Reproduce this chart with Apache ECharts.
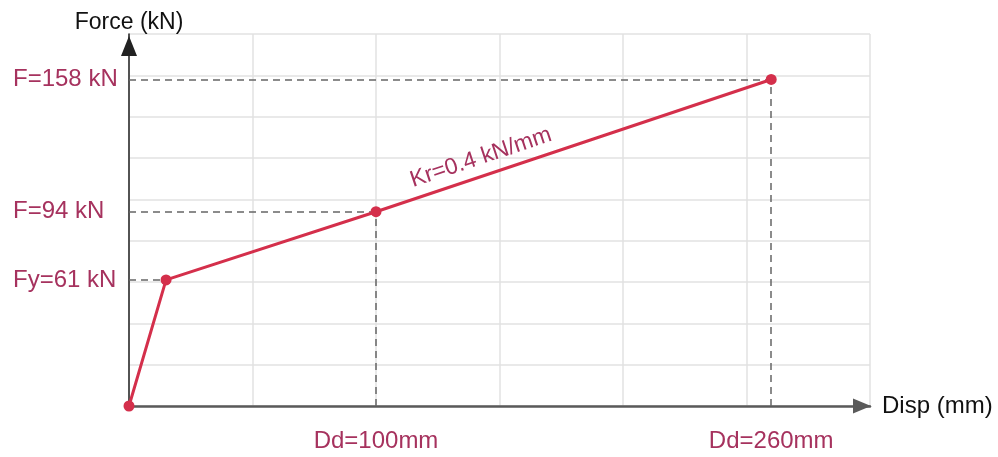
<!DOCTYPE html>
<html>
<head>
<meta charset="utf-8">
<script src="https://cdn.jsdelivr.net/npm/echarts@6/dist/echarts.min.js"></script>
<style>html,body{margin:0;padding:0;background:#fff}#c{width:998px;height:457px}</style>
</head>
<body>
<div id="c"></div>
<script>
// Data
const dispValues = [0, 15, 100, 260];          // mm
const forceValues = [0, 61, 94, 158];          // kN
const yLabelValues = [61, 94, 158];
const yLabelTexts = ['Fy=61 kN', 'F=94 kN', 'F=158 kN'];
const xLabelValues = [100, 260];
const xLabelTexts = ['Dd=100mm', 'Dd=260mm'];
const slopeText = 'Kr=0.4 kN/mm';
const xName = 'Disp (mm)';
const yName = 'Force (kN)';

const FONT = '"Liberation Sans", Arial, Helvetica, sans-serif';
const LABEL_COLOR = '#a6325e';
const LINE_COLOR = '#d42f4b';

const pts = dispValues.map((d, i) => [d, forceValues[i]]);

const chart = echarts.init(document.getElementById('c'), null, {renderer: 'canvas'});
const ymap = {}; yLabelValues.forEach((v, i) => ymap[v] = yLabelTexts[i]);
const xmap = {}; xLabelValues.forEach((v, i) => xmap[v] = xLabelTexts[i]);

const dashStyle = {color: '#666', type: [7, 5], width: 1.5};
chart.setOption({
  animation: false,
  grid: {left: 129, right: 128, top: 34, bottom: 51},
  xAxis: [{
    type: 'value', min: 0, max: 300, interval: 50,
    name: xName, nameLocation: 'end', nameGap: 12,
    nameTextStyle: {fontFamily: FONT, fontSize: 24, color: '#111', verticalAlign: 'middle'},
    axisLine: {show: true, lineStyle: {color: '#5a5a5a', width: 2.5}, symbol: ['none', 'triangle'], symbolSize: [15, 18], symbolOffset: [0, -8]},
    axisTick: {show: false},
    axisLabel: {
      show: true, customValues: xLabelValues, margin: 23,
      formatter: v => xmap[v] || '',
      fontFamily: FONT, fontSize: 24, color: LABEL_COLOR
    },
    splitLine: {show: true, lineStyle: {color: '#e2e2e2', width: 1.5}}
  }],
  yAxis: [{
    type: 'value', min: 0, max: 180, interval: 20,
    name: yName, nameLocation: 'end', nameGap: 0,
    nameTextStyle: {fontFamily: FONT, fontSize: 23, color: '#111', align: 'center'},
    axisLine: {show: true, lineStyle: {color: '#222', width: 1.5}, symbol: ['none', 'triangle'], symbolSize: [16, 20], symbolOffset: [0, -12]},
    axisTick: {show: false},
    axisLabel: {
      show: true, customValues: yLabelValues, margin: 116, align: 'left',
      formatter: v => ymap[v] || '',
      fontFamily: FONT, fontSize: 24, color: LABEL_COLOR
    },
    splitLine: {show: true, lineStyle: {color: '#e2e2e2', width: 1.5}}
  }],
  series: [{
    type: 'line',
    data: pts,
    symbol: 'circle', symbolSize: 11,
    lineStyle: {color: LINE_COLOR, width: 3},
    itemStyle: {color: LINE_COLOR},
    z: 5,
    markLine: {
      silent: true, symbol: 'none', label: {show: false},
      lineStyle: dashStyle,
      z: 3,
      data: [
        [{coord: [0, pts[1][1]]}, {coord: pts[1]}],
        [{coord: [0, pts[2][1]]}, {coord: pts[2]}],
        [{coord: [pts[2][0], 0]}, {coord: pts[2]}],
        [{coord: [0, pts[3][1]]}, {coord: pts[3]}],
        [{coord: [pts[3][0], 0]}, {coord: pts[3]}]
      ]
    }
  }]
});

// Slope label along the second segment
const p1 = chart.convertToPixel({gridIndex: 0}, pts[2]);
const p2 = chart.convertToPixel({gridIndex: 0}, pts[3]);
const ang = Math.atan2(p1[1] - p2[1], p2[0] - p1[0]);
const t = 0.28;
const mx = p1[0] + (p2[0] - p1[0]) * t;
const my = p1[1] + (p2[1] - p1[1]) * t;
const off = 18;
chart.setOption({
  graphic: [{
    type: 'text',
    x: mx - off * Math.sin(ang),
    y: my - off * Math.cos(ang),
    rotation: ang,
    style: {text: slopeText, fontFamily: FONT, fontSize: 23, fill: LABEL_COLOR, align: 'center', verticalAlign: 'middle'}
  }]
});
</script>
</body>
</html>
